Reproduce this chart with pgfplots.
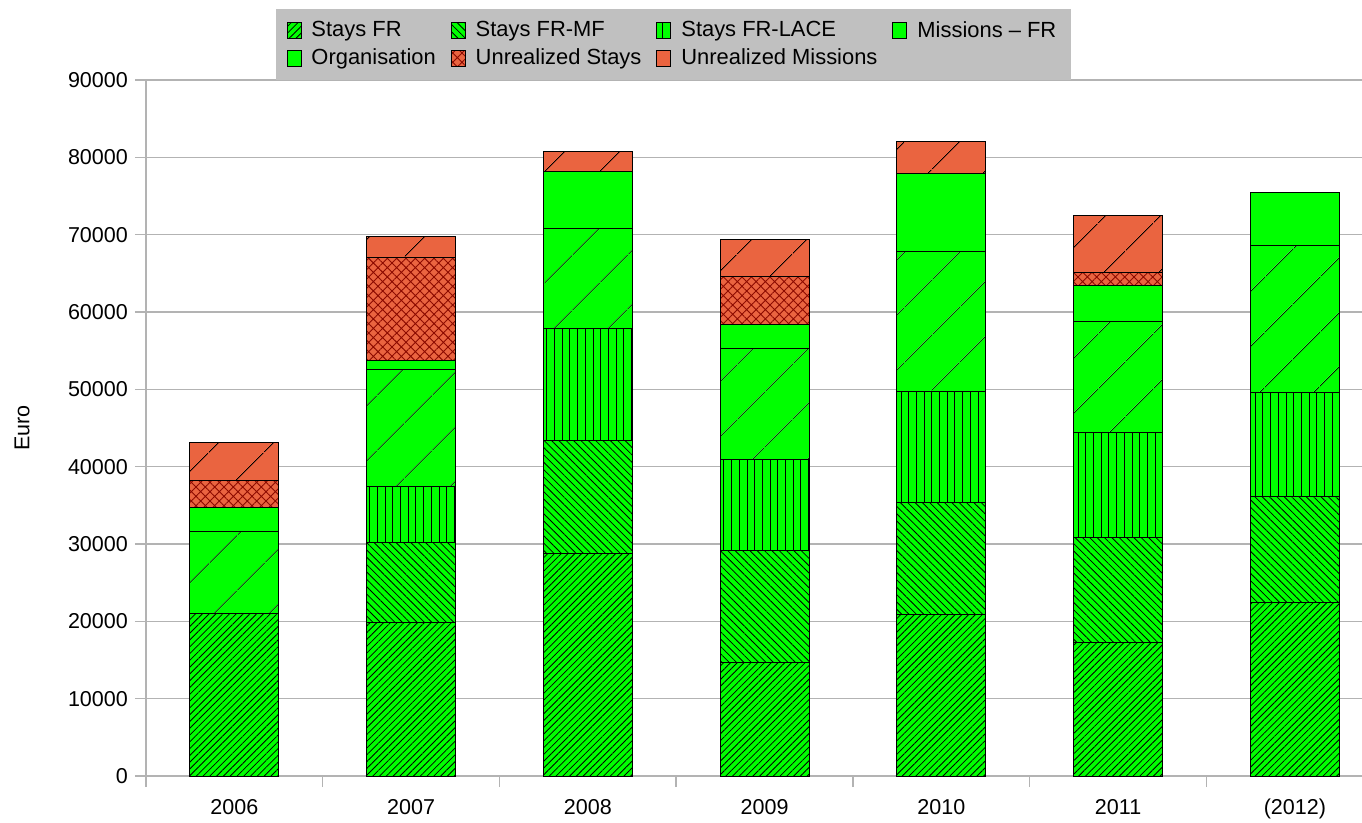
\documentclass[border=0pt]{standalone}
\usepackage{fontspec}
\setmainfont{Liberation Sans}
\usepackage{pgfplots}
\pgfplotsset{compat=1.18}
\usetikzlibrary{patterns.meta}
\definecolor{bargreen}{RGB}{0,255,0}
\definecolor{barred}{RGB}{234,100,64}
\definecolor{hatchred}{RGB}{140,10,0}
\definecolor{gridgray}{RGB}{179,179,179}
\definecolor{leggray}{RGB}{192,192,192}
\pgfplotsset{
  patchlegend/.style={legend image code/.code={\draw[##1,line width=0.5bp] (0bp,-4bp) rectangle (7bp,4bp);}},
  plainlegend/.style={legend image code/.code={%
    \pgfsetlinewidth{0.5bp}\pgfsetfillcolor{#1}\pgfsetstrokecolor{black}%
    \pgfpathrectangle{\pgfpoint{0bp}{-4bp}}{\pgfpoint{7bp}{8bp}}\pgfusepath{fill,stroke}}},
}
\newcommand{\fs}{\fontsize{10.8}{13}\selectfont}
\newcommand{\fl}{\fontsize{11}{13}\selectfont}
\begin{document}
\begin{tikzpicture}
\begin{axis}[
  at={(0,0)}, anchor=south west,
  scale only axis, width=608bp, height=348bp,
  ybar stacked, bar width=44.5bp,
  xmin=-0.5, xmax=6.38, ymin=0, ymax=90000,
  xtick={0,...,6},
  xticklabels={2006,2007,2008,2009,2010,2011,(2012)},
  minor xtick={-0.5,0.5,1.5,2.5,3.5,4.5,5.5},
  ytick={0,10000,...,90000},
  scaled y ticks=false,
  /pgf/number format/assume math mode=true,
  yticklabel style={/pgf/number format/fixed,/pgf/number format/1000 sep={}, font=\fs},
  xticklabel style={font=\fs, yshift=-2.5bp},
  axis x line*=bottom, axis y line*=left,
  axis line style={draw=gridgray, line width=0.75bp, -},
  tick align=outside,
  major tick length=5.5bp, minor tick length=5.5bp,
  major x tick style={draw=none},
  minor x tick style={draw=gridgray, line width=0.75bp},
  major y tick style={draw=gridgray, line width=0.75bp},
  ymajorgrids, grid style={draw=gridgray, line width=0.75bp},
  ylabel={Euro},
  every axis y label/.style={at={(axis description cs:-0.102,0.5)}, rotate=90, anchor=center, font=\fs},
  legend columns=4,
  legend cell align=left,
  legend style={at={(axis description cs:0.1061,1.1025)}, anchor=north west,
    fill=leggray, draw=none, font=\fl, inner xsep=5.5bp, inner ysep=4bp,
    row sep=0.5bp,
    /tikz/every odd column/.append style={column sep=3bp},
    /tikz/every even column/.append style={column sep=5.5bp}},
  draw=black, line width=0.5bp,
]
\addplot[fill=bargreen, draw=black, postaction={pattern={Lines[angle=45,distance=2.4bp,line width=0.4bp]}, pattern color=black}, patchlegend]
  coordinates {(0,21078) (1,19785) (2,28710) (3,14740) (4,20820) (5,17200) (6,22500)};
\addplot[fill=bargreen, draw=black, postaction={pattern={Lines[angle=-45,distance=2.6bp,line width=0.4bp]}, pattern color=black}, patchlegend]
  coordinates {(0,0) (1,10345) (2,14610) (3,14360) (4,14610) (5,13580) (6,13580)};
\addplot[fill=bargreen, draw=black, postaction={pattern={Lines[angle=90,distance=3.85bp,line width=0.4bp]}, pattern color=black}, patchlegend]
  coordinates {(0,0) (1,7370) (2,14610) (3,11890) (4,14230) (5,13580) (6,13450)};
\addplot[fill=bargreen, draw=black, postaction={pattern={Lines[angle=45,distance=19.5bp,line width=0.45bp]}, pattern color=black}, plainlegend=bargreen]
  coordinates {(0,10600) (1,15130) (2,12810) (3,14230) (4,18100) (5,14350) (6,19010)};
\addplot[fill=bargreen, draw=black, plainlegend=bargreen]
  coordinates {(0,2980) (1,1040) (2,7370) (3,3100) (4,10090) (5,4660) (6,6850)};
\addplot[fill=barred, draw=black, postaction={pattern={Hatch[angle=45,distance=3.3bp,line width=0.45bp]}, pattern color=hatchred}, patchlegend]
  coordinates {(0,3490) (1,13320) (2,0) (3,6210) (4,0) (5,1680) (6,0)};
\addplot[fill=barred, draw=black, postaction={pattern={Lines[angle=45,distance=19.5bp,line width=0.45bp]}, pattern color=black}, plainlegend=barred]
  coordinates {(0,5040) (1,2710) (2,2710) (3,4910) (4,4140) (5,7370) (6,0)};
\legend{Stays FR, Stays FR-MF, Stays FR-LACE, Missions -- FR, Organisation, Unrealized Stays, Unrealized Missions}
\end{axis}
\pgfresetboundingbox
\useasboundingbox (-73bp,-23.5bp) rectangle (608bp,388bp);
\end{tikzpicture}
\end{document}
